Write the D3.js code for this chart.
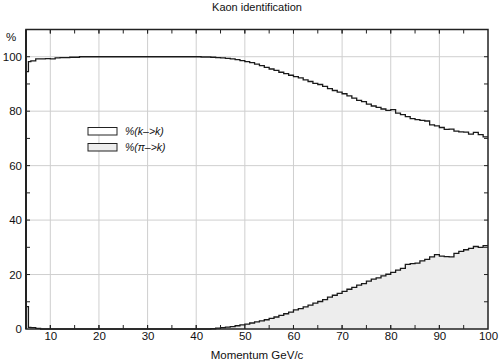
<!DOCTYPE html>
<html><head><meta charset="utf-8">
<script src="https://cdn.jsdelivr.net/npm/d3@7"></script>
<style>body{margin:0;background:#fff}svg{display:block;font-family:"Liberation Sans",Arial,sans-serif}</style>
</head><body><svg id="c" width="500" height="364"></svg>
<script>
// bin lower edges (GeV/c); last bin ends at 100
const binStarts = [5, 5.5].concat(d3.range(6, 100));
const kToK = [94.5, 98.2, 98.5, 99.2, 99.2, 99.3, 99.2, 99.6, 99.7, 99.7, 99.8, 99.8,
  100,100,100,100,100,100,100,100,100,100,100,100,100,100,100,100,100,100,100,100,100,100,100,100,100,
  99.9, 99.9, 99.8, 99.7, 99.6, 99.4, 99.2, 98.9, 98.6,
  98.2, 97.8, 97.3, 96.7, 96.1, 95.5, 95.0, 94.3, 93.8, 93.2,
  92.7, 92.2, 91.5, 90.9, 90.2, 89.8, 89.1, 88.3, 87.6, 87.0,
  86.4, 85.6, 84.8, 84.0, 83.5, 82.6, 81.9, 81.4, 80.8, 80.3,
  80.6, 79.3, 78.7, 78.0, 77.3, 76.9, 76.6, 76.4, 75.0, 74.6,
  74.0, 73.3, 73.4, 72.7, 72.4, 72.3, 71.6, 72.2, 71.4, 70.6];
const piToK = [8.2, 0.6, 0.5, 0.2,
  0,0,0,0,0,0,0,0,0,0,0,0,0,0,0,0,0,0,0,0,0,0,0,0,0,0,0,0,0,0,0,0,0,0,0,
  0.1, 0.3, 0.5, 0.7, 0.9, 1.2, 1.5,
  1.8, 2.2, 2.6, 3.0, 3.4, 3.9, 4.4, 5.0, 5.6, 6.2,
  7.0, 7.5, 8.1, 8.8, 9.5, 10.1, 10.8, 11.7, 12.4, 13.1,
  13.8, 14.6, 15.3, 16.1, 16.7, 17.6, 18.3, 18.8, 19.5, 20.1,
  20.8, 21.6, 22.3, 23.7, 24.0, 24.2, 25.0, 25.6, 26.5, 27.3,
  26.8, 26.6, 26.5, 27.8, 28.5, 29.1, 29.6, 30.3, 30.0, 30.6];
const xMajor = [10, 20, 30, 40, 50, 60, 70, 80, 90, 100];
const yMajor = [0, 20, 40, 60, 80, 100];
const seriesNames = ["%(k\u2013>k)", "%(\u03c0\u2013>k)"];

const svg = d3.select("#c");
const L = 26, R = 488, T = 29.5, B = 329;
const x = d3.scaleLinear().domain([5, 100]).range([L, R]);
const y = d3.scaleLinear().domain([0, 110]).range([B, T]);

// grid
const g = svg.append("g");
g.selectAll(".gx").data(xMajor.filter(d => d < 100)).enter().append("line")
  .attr("x1", d => x(d)).attr("x2", d => x(d)).attr("y1", T).attr("y2", B)
  .attr("stroke", "#cfcfcf").attr("stroke-width", 1);
g.selectAll(".gy").data(yMajor.filter(d => d > 0)).enter().append("line")
  .attr("x1", L).attr("x2", R).attr("y1", d => y(d)).attr("y2", d => y(d))
  .attr("stroke", "#cfcfcf").attr("stroke-width", 1);

function pts(vals) {
  const p = binStarts.map((b, i) => [b, vals[i]]);
  p.push([100, vals[vals.length - 1]]);
  return p;
}
// pi->k filled area
const area = d3.area().curve(d3.curveStepAfter).x(d => x(d[0])).y0(y(0)).y1(d => y(d[1]));
const line = d3.line().curve(d3.curveStepAfter).x(d => x(d[0])).y(d => y(d[1]));
svg.append("path").attr("d", area(pts(piToK))).attr("fill", "#ededed");
svg.append("path").attr("d", line(pts(piToK))).attr("fill", "none").attr("stroke", "#1a1a1a").attr("stroke-width", 1.3);
svg.append("path").attr("d", line(pts(kToK))).attr("fill", "none").attr("stroke", "#1a1a1a").attr("stroke-width", 1.3);

// axes (ticks inward)
const xMinor = d3.range(5, 100, 5);
const yMinor = d3.range(10, 110, 10);
const ax = svg.append("g");
ax.append("g").attr("transform", `translate(0,${B})`)
  .call(d3.axisBottom(x).tickValues(xMajor).tickSize(0).tickPadding(3))
  .call(s => s.select(".domain").remove())
  .call(s => s.selectAll("text").attr("font-size", 11.5).attr("fill", "#111").attr("font-family", "Liberation Sans, Arial, sans-serif"));
ax.append("g").attr("transform", `translate(${L},0)`)
  .call(d3.axisLeft(y).tickValues(yMajor).tickSize(0).tickPadding(4))
  .call(s => s.select(".domain").remove())
  .call(s => s.selectAll("text").attr("font-size", 11.5).attr("fill", "#111").attr("font-family", "Liberation Sans, Arial, sans-serif"));

const tk = svg.append("g").attr("stroke", "#222").attr("stroke-width", 1);
xMinor.concat(xMajor).forEach(v => {
  if (v <= 5 || v >= 100) return;
  const len = 4;
  tk.append("line").attr("x1", x(v)).attr("x2", x(v)).attr("y1", B).attr("y2", B - len);
  tk.append("line").attr("x1", x(v)).attr("x2", x(v)).attr("y1", T).attr("y2", T + len);
});
yMinor.forEach(v => {
  const len = 4;
  tk.append("line").attr("x1", L).attr("x2", L + len).attr("y1", y(v)).attr("y2", y(v));
  tk.append("line").attr("x1", R).attr("x2", R - len).attr("y1", y(v)).attr("y2", y(v));
});
// frame
svg.append("rect").attr("x", L).attr("y", T).attr("width", R - L).attr("height", B - T)
  .attr("fill", "none").attr("stroke", "#222").attr("stroke-width", 1.5);
svg.append("line").attr("x1", L).attr("x2", L).attr("y1", T).attr("y2", B).attr("stroke", "#222").attr("stroke-width", 2);

// labels
svg.append("text").attr("x", 257).attr("y", 11).attr("text-anchor", "middle").attr("font-size", 11).attr("fill", "#111").text("Kaon identification");
svg.append("text").attr("x", 257).attr("y", 359).attr("text-anchor", "middle").attr("font-size", 11.5).attr("fill", "#111").text("Momentum GeV/c");
svg.append("text").attr("x", 11).attr("y", 41).attr("text-anchor", "middle").attr("font-size", 11.5).attr("fill", "#111").text("%");

// legend
const lg = svg.append("g");
const fills = ["#ffffff", "#ededed"];
seriesNames.forEach((n, i) => {
  lg.append("rect").attr("x", 88).attr("y", 127.5 + i * 16).attr("width", 29).attr("height", 7.5)
    .attr("fill", fills[i]).attr("stroke", "#222").attr("stroke-width", 1);
  lg.append("text").attr("x", 125).attr("y", 135 + i * 16).attr("font-size", 10.5).attr("font-style", "italic")
    .attr("fill", "#111").text(n);
});
</script></body></html>
